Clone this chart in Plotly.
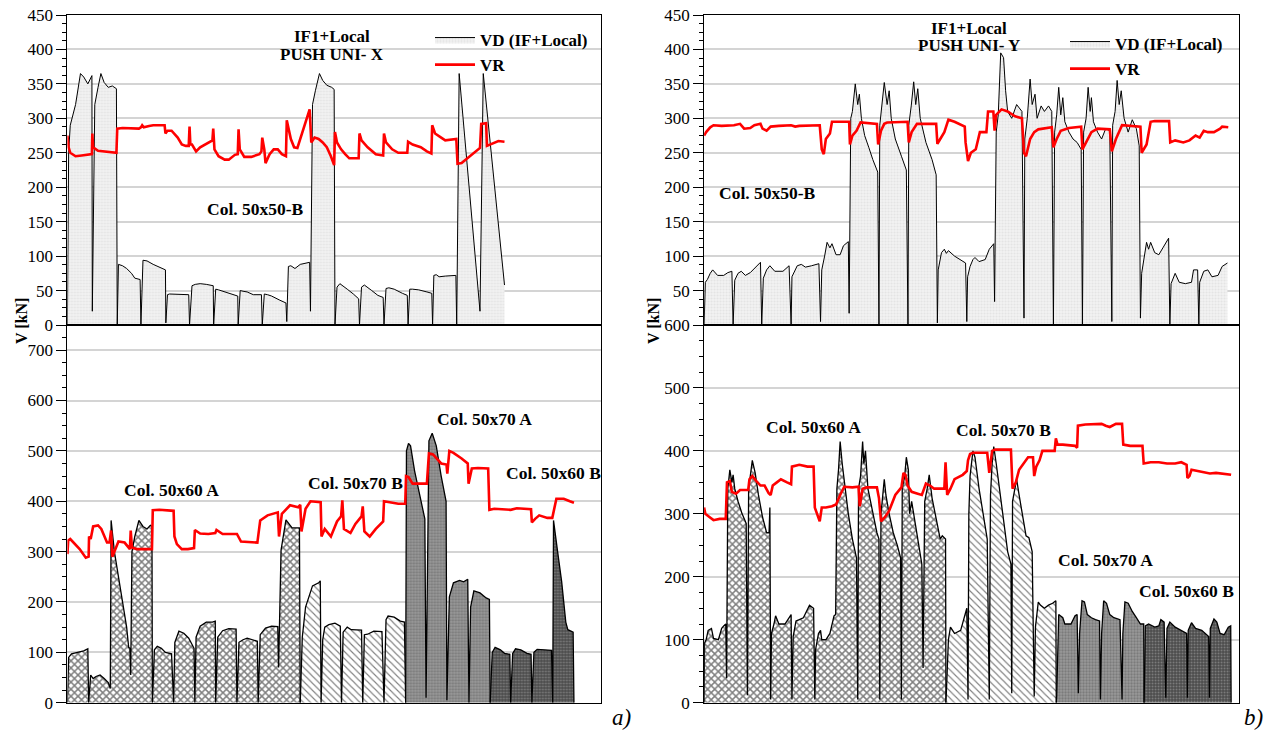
import plotly.graph_objects as go

FONT = "Liberation Serif"

# ---------------- data (abscissa = analysis step index, arbitrary units) ----------------
# Top-left: IF1+Local PUSH UNI-X, Col. 50x50-B
tl_vd = [(165,0),(168,250),(172,290),(185,320),(197,365),(205,360),(215,350),(225,362),(226,20),
 (232,320),(240,345),(247,365),(255,352),(265,345),(275,347),(285,343),(287,0),
 (290,88),(300,86),(310,82),(322,75),(330,68),(343,66),(345,0),
 (350,94),(360,93),(375,88),(395,82),(405,80),(406,3),
 (410,44),(415,45),(440,45),(462,44),(464,0),
 (470,57),(478,59),(490,60),(505,59),(522,57),(523,0),
 (528,52),(535,51),(550,48),(570,44),(582,42),(583,0),
 (588,50),(595,49),(605,48),(620,44),(640,44),(642,0),
 (647,45),(655,44),(665,42),(685,36),(700,32),(702,5),
 (706,85),(712,86),(722,82),(735,88),(758,91),(760,20),
 (765,320),(772,340),(782,365),(790,355),(800,348),(812,345),(818,342),(820,0),
 (825,55),(832,60),(840,57),(850,52),(865,45),(878,38),(880,0),
 (885,55),(892,58),(900,55),(910,50),(925,43),(938,40),(940,0),
 (945,53),(952,54),(965,52),(985,46),(997,43),(999,0),
 (1003,52),(1010,52),(1025,51),(1045,48),(1057,46),(1059,0),
 (1062,72),(1068,73),(1075,70),(1090,71),(1116,72),(1118,0),(1124,365),(1175,20),(1183,365),(1235,58)]
tl_vr = [(165,275),(168,258),(172,250),(185,245),(200,246),(225,248),(226,278),(228,258),(240,253),
 (260,252),(285,250),(287,285),(300,286),(340,285),(345,287),(348,290),(352,287),(365,289),(375,290),
 (403,290),(405,278),(410,282),(420,282),(435,272),(445,262),(455,260),(462,260),(464,288),(466,262),
 (470,262),(480,252),(490,258),(510,265),(520,268),(522,285),(525,255),(535,245),(550,240),(560,240),
 (575,247),(582,248),(584,284),(587,255),(598,244),(615,244),(635,248),(640,252),(642,272),(647,255),
 (650,235),(660,248),(670,255),(680,255),(690,248),(700,245),(702,297),(712,270),(720,258),(728,257),
 (738,275),(748,296),(758,313),(762,265),(770,272),(780,270),(790,265),(800,258),(810,245),(818,232),
 (820,280),(825,265),(835,255),(845,248),(855,242),(878,242),(880,278),(885,268),(900,258),(920,248),
 (938,246),(940,278),(945,265),(960,255),(975,250),(997,250),(999,266),(1010,262),(1030,258),(1045,252),
 (1056,249),(1058,290),(1065,278),(1080,272),(1090,268),(1117,270),(1120,234),(1130,235),(1145,242),
 (1160,250),(1175,257),(1178,292),(1190,293),(1192,260),(1200,262),(1210,265),(1220,267),(1235,266)]

# Top-right: IF1+Local PUSH UNI-Y, Col. 50x50-B
tr_vd = [(157,0),(160,62),(165,66),(172,75),(178,80),(185,75),(190,72),(205,72),(215,76),(225,78),(228,0),
 (232,65),(240,75),(248,78),(258,72),(270,76),(285,85),(295,91),(298,0),
 (302,68),(310,80),(318,86),(330,78),(350,78),(365,86),(370,0),
 (372,70),(385,86),(395,88),(405,84),(420,86),(438,89),(442,5),
 (445,80),(452,100),(458,120),(465,112),(470,118),(480,102),(490,102),(498,115),(510,121),(512,17),
 (516,300),(520,310),(527,350),(533,320),(537,335),(542,300),(550,275),(560,258),(570,240),(582,222),(585,0),
 (587,290),(592,320),(598,352),(605,320),(610,340),(615,300),(625,270),(640,245),(652,225),(656,0),
 (658,290),(664,318),(670,353),(675,320),(680,343),(686,300),(700,265),(715,240),(725,218),(728,3),
 (730,80),(738,105),(745,110),(750,104),(755,108),(770,100),(785,95),(797,90),(800,5),
 (802,70),(808,85),(815,95),(820,98),(830,92),(845,95),(855,110),(866,118),(868,34),
 (872,280),(877,305),(883,395),(890,388),(895,340),(900,310),(910,300),(922,320),(935,310),(940,10),
 (942,270),(948,300),(955,357),(960,320),(967,335),(972,300),(982,318),(990,310),(1000,318),(1008,310),(1012,0),
 (1015,280),(1020,305),(1025,345),(1030,305),(1035,330),(1040,295),(1050,280),(1060,270),(1070,265),(1080,255),(1083,0),
 (1086,280),(1092,300),(1097,345),(1102,310),(1105,330),(1110,295),(1120,280),(1130,270),(1140,285),(1150,282),(1155,5),
 (1157,290),(1163,310),(1168,355),(1173,320),(1178,340),(1185,300),(1195,280),(1205,298),(1215,285),(1222,260),(1225,10),
 (1228,75),(1235,105),(1240,120),(1245,110),(1250,120),(1260,105),(1270,102),(1280,112),(1294,126),(1297,0),
 (1300,60),(1310,75),(1320,62),(1335,60),(1350,62),(1355,80),(1365,80),(1368,0),
 (1370,62),(1380,78),(1390,80),(1400,70),(1415,72),(1425,85),(1438,90)]
tr_vr = [(157,275),(162,280),(172,287),(180,290),(200,289),(230,290),(245,292),(255,285),(270,286),(280,290),
 (295,292),(300,285),(310,282),(320,288),(340,289),(370,290),(380,288),(390,289),(440,290),(445,255),
 (450,248),(455,270),(465,278),(470,295),(512,295),(514,262),(520,275),(530,282),(540,294),(580,292),
 (583,262),(590,282),(598,292),(605,294),(655,295),(658,265),(665,280),(678,292),(725,292),(728,263),
 (735,270),(745,280),(755,298),(770,295),(795,288),(797,265),(803,238),(810,250),(822,255),(832,280),
 (848,280),(852,310),(865,310),(868,282),(872,305),(885,313),(900,310),(918,303),(935,300),(940,250),
 (945,245),(955,270),(965,280),(975,284),(1008,287),(1012,258),(1020,270),(1030,282),(1050,286),
 (1080,288),(1083,255),(1095,270),(1105,280),(1120,285),(1150,284),(1155,252),(1165,270),(1180,290),
 (1225,288),(1228,250),(1240,262),(1250,295),(1260,296),(1295,296),(1298,265),(1310,268),(1330,265),
 (1345,268),(1360,275),(1370,272),(1380,282),(1390,280),(1405,280),(1420,285),(1425,288),(1440,287)]

# Bottom-left (PUSH UNI-X)
bl_50x60A = [(165,0),(168,90),(175,97),(190,100),(205,103),(215,107),(217,0),
 (222,55),(228,48),(235,52),(245,55),(255,48),(265,40),(270,28),(272,362),(280,300),(290,250),(300,200),
 (310,150),(315,110),(318,108),(320,55),(323,300),(330,330),(340,362),(350,350),(360,345),(368,352),(372,350),(373,0),
 (378,105),(385,112),(395,108),(405,100),(420,97),(425,0),
 (428,120),(438,142),(450,138),(462,128),(475,108),(477,0),
 (480,130),(490,152),(505,160),(520,160),(527,162),(528,0),
 (533,130),(545,143),(560,147),(578,146),(580,0),
 (585,120),(595,125),(605,128),(620,124),(630,122),(632,0),
 (637,135),(650,148),(665,152),(680,151),(682,70),(688,303),(700,363),(715,347),(733,347),(735,0)]
bl_50x70B = [(735,0),(740,130),(748,190),(765,232),(780,238),(784,242),(786,0),
 (790,125),(795,150),(805,155),(820,158),(833,152),(836,0),
 (840,140),(850,150),(860,145),(885,144),(888,0),
 (892,135),(900,136),(915,142),(935,141),(940,0),
 (945,165),(950,172),(965,170),(980,162),(990,160),(993,0)]
bl_50x70A = [(993,0),(995,500),(1000,515),(1005,510),(1015,460),(1030,400),(1040,365),(1043,10),
 (1050,520),(1058,535),(1068,510),(1080,450),(1092,400),(1094,5),
 (1100,210),(1110,238),(1125,243),(1135,240),(1145,245),(1148,0),
 (1152,190),(1160,222),(1175,218),(1190,208),(1198,205),(1200,0)]
bl_50x60B = [(1200,0),(1205,100),(1212,110),(1225,105),(1235,98),(1248,96),(1250,0),
 (1255,98),(1262,107),(1275,105),(1290,98),(1300,96),(1302,0),
 (1307,100),(1315,106),(1330,105),(1350,104),(1353,0),
 (1355,362),(1365,300),(1375,240),(1385,160),(1390,145),(1403,140),(1405,0)]
bl_vr = [(165,295),(167,322),(172,325),(180,318),(195,305),(210,288),(217,290),(218,330),(222,325),(228,350),
 (240,352),(248,345),(262,318),(268,318),(272,342),(275,290),(280,300),(290,320),(305,318),(318,305),
 (320,342),(323,308),(335,305),(372,305),(374,382),(390,383),(425,381),(427,330),(433,315),(445,305),
 (460,305),(475,307),(477,343),(490,336),(510,335),(527,337),(530,343),(545,335),(580,335),(590,320),
 (630,318),(637,362),(655,372),(680,378),(683,330),(690,375),(710,392),(730,388),(735,393),(738,340),
 (748,385),(760,400),(785,398),(787,330),(795,345),(810,330),(825,360),(835,370),(838,402),(842,345),
 (858,337),(870,355),(885,370),(888,390),(892,340),(905,330),(920,345),(938,360),(940,400),(960,398),
 (975,395),(992,395),(994,450),(1000,448),(1010,435),(1045,435),(1050,495),(1060,493),(1070,485),
 (1080,475),(1093,473),(1095,455),(1100,500),(1110,496),(1130,485),(1145,475),(1147,435),(1155,465),
 (1170,466),(1195,465),(1198,383),(1210,385),(1250,383),(1265,386),(1300,384),(1302,358),(1310,365),
 (1320,372),(1340,367),(1352,367),(1362,405),(1380,405),(1395,400),(1405,397)]

# Bottom-right (PUSH UNI-Y)
br_50x60A = [(157,0),(158,95),(162,100),(167,115),(175,118),(180,102),(192,100),(200,118),(205,122),(210,125),(212,39),
 (215,340),(220,370),(225,350),(228,362),(232,340),(240,320),(250,300),(260,285),(263,12),
 (266,340),(272,370),(275,385),(282,365),(290,330),(300,295),(310,270),(316,270),(318,310),(320,5),
 (322,110),(328,125),(332,138),(340,125),(355,125),(370,140),(372,5),
 (375,105),(382,130),(390,132),(400,135),(415,155),(425,150),(428,5),
 (430,85),(437,110),(442,115),(445,100),(455,100),(465,110),(475,138),(479,140),
 (482,340),(486,370),(490,415),(495,380),(500,350),(510,300),(520,260),(530,230),(533,5),
 (535,340),(540,360),(545,415),(548,380),(552,400),(558,340),(570,300),(580,270),(585,260),(587,5),
 (590,300),(595,330),(598,355),(602,330),(610,300),(620,270),(630,250),(638,230),(640,5),
 (642,340),(648,360),(652,390),(657,370),(660,300),(665,320),(675,280),(685,235),(690,220),(693,55),
 (697,320),(703,340),(708,362),(715,325),(725,290),(735,260),(740,265),(748,260),(749,0)]
br_50x70B = [(749,0),(750,15),(755,100),(760,120),(770,110),(785,115),(795,140),(800,150),(803,5),
 (805,300),(808,360),(815,400),(820,390),(830,340),(840,300),(850,260),(855,5),
 (858,330),(862,380),(866,407),(872,380),(880,340),(890,290),(900,240),(908,220),(910,15),
 (912,320),(918,340),(922,355),(928,330),(935,300),(945,265),(952,262),(960,240),(965,10),
 (968,120),(975,160),(980,155),(990,150),(1000,155),(1010,158),(1018,162),(1019,0)]
br_50x70A = [(1019,0),(1020,10),(1025,140),(1035,135),(1040,125),(1055,125),(1065,138),(1070,140),(1073,15),
 (1076,110),(1082,162),(1088,160),(1095,140),(1105,135),(1115,132),(1125,130),(1127,5),
 (1130,110),(1135,162),(1142,158),(1150,140),(1160,135),(1175,132),(1180,5),
 (1182,110),(1187,160),(1195,158),(1205,145),(1215,135),(1225,125),(1233,125),(1234,0)]
br_50x60B = [(1234,0),(1237,122),(1245,125),(1260,120),(1270,122),(1275,132),(1283,128),(1287,8),
 (1290,118),(1297,128),(1310,120),(1325,115),(1338,110),(1340,8),
 (1342,115),(1350,127),(1360,118),(1375,115),(1385,110),(1392,105),(1394,8),
 (1396,118),(1405,133),(1412,128),(1420,110),(1430,108),(1440,120),(1446,122),(1447,0)]
br_vr = [(157,310),(160,300),(170,295),(180,290),(195,292),(210,292),(213,350),(220,352),(225,335),(235,332),
 (245,338),(265,338),(268,355),(275,360),(285,352),(295,345),(305,345),(315,333),(320,330),(325,345),
 (335,350),(345,355),(360,350),(370,347),(372,375),(390,378),(410,375),(425,375),(428,310),(435,295),
 (440,288),(445,310),(455,310),(470,312),(480,315),(490,330),(500,343),(520,342),(535,343),(538,312),
 (545,340),(555,342),(580,342),(585,325),(590,288),(600,295),(610,305),(625,330),(640,342),(645,365),
 (650,362),(655,345),(665,335),(680,332),(690,330),(700,348),(710,345),(720,340),(745,340),(748,382),
 (752,330),(760,340),(770,355),(790,362),(800,368),(803,385),(808,395),(815,397),(850,397),(855,365),
 (862,400),(870,402),(908,402),(912,340),(920,350),(928,370),(940,380),(950,390),(962,390),(965,360),
 (970,375),(978,385),(985,400),(1015,400),(1018,420),(1022,410),(1035,410),(1065,408),(1070,405),
 (1072,440),(1090,442),(1110,443),(1130,443),(1140,440),(1150,438),(1165,443),(1180,443),(1183,410),
 (1200,408),(1230,408),(1233,380),(1250,382),(1270,382),(1290,380),(1310,380),(1325,382),(1338,378),
 (1340,357),(1345,360),(1350,370),(1365,368),(1380,365),(1395,364),(1410,365),(1430,363),(1447,362)]

# ---------------- styles ----------------
PAT_TOP = dict(shape=".", size=3, solidity=0.35, fgcolor="#d6d6d6", bgcolor="#f1f1f1")
PAT_60A = dict(shape="x", size=5, solidity=0.5, fgcolor="#000000", bgcolor="#ffffff")
PAT_70B = dict(shape="\\", size=5, solidity=0.22, fgcolor="#000000", bgcolor="#ffffff")
PAT_70A = dict(shape=".", size=3, solidity=0.45, fgcolor="#5a5a5a", bgcolor="#9a9a9a")
PAT_60B = dict(shape=".", size=3, solidity=0.3, fgcolor="#b0b0b0", bgcolor="#4c4c4c")


def xs(p):
    return [a for a, _ in p]


def ys(p):
    return [b for _, b in p]


fig = go.Figure()


def add_vd(pts, xa, ya, pat, width=1.0, name="VD (IF+Local)", legend=None, group=None):
    fig.add_trace(go.Scatter(
        x=xs(pts), y=ys(pts), xaxis=xa, yaxis=ya, mode="lines", name=name,
        line=dict(color="black", width=width), fill="tozeroy", fillpattern=pat,
        showlegend=legend is not None, legend=legend or "legend", legendgroup=group,
        hoverinfo="skip"))


def add_vr(pts, xa, ya, legend=None, group=None):
    fig.add_trace(go.Scatter(
        x=xs(pts), y=ys(pts), xaxis=xa, yaxis=ya, mode="lines", name="VR",
        line=dict(color="#ff0000", width=2.6), showlegend=legend is not None,
        legend=legend or "legend", legendgroup=group, hoverinfo="skip"))


add_vd(tl_vd, "x", "y", PAT_TOP, legend="legend", group="a1")
add_vr(tl_vr, "x", "y", legend="legend", group="a2")
for pts, pat in [(bl_50x60A, PAT_60A), (bl_50x70B, PAT_70B), (bl_50x70A, PAT_70A), (bl_50x60B, PAT_60B)]:
    add_vd(pts, "x2", "y2", pat, width=1.3)
add_vr(bl_vr, "x2", "y2")
add_vd(tr_vd, "x3", "y3", PAT_TOP, legend="legend2", group="b1")
add_vr(tr_vr, "x3", "y3", legend="legend2", group="b2")
for pts, pat in [(br_50x60A, PAT_60A), (br_50x70B, PAT_70B), (br_50x70A, PAT_70A), (br_50x60B, PAT_60B)]:
    add_vd(pts, "x4", "y4", pat, width=1.3)
add_vr(br_vr, "x4", "y4")

W, H = 1277, 731
XL = [67.4 / W, 600.5 / W]
XR = [704.1 / W, 1239.3 / W]
YT = [1 - 325 / H, 1 - 15 / H]
YB = [1 - 702.7 / H, 1 - 325 / H]

tickfont = dict(family=FONT, size=17, color="black")


def xax(domain, rng, anchor):
    return dict(domain=domain, range=rng, anchor=anchor, showticklabels=False, ticks="",
                showgrid=False, zeroline=False, showline=True, mirror=True,
                linecolor="black", linewidth=1, fixedrange=True, automargin=False)


def yax(domain, rng, anchor, tickvals, minor_dtick):
    return dict(domain=domain, range=rng, anchor=anchor, tickmode="array", tickvals=tickvals,
                ticks="outside", ticklen=10, tickcolor="black", tickfont=tickfont,
                showgrid=True, gridcolor="#d4d4d4", gridwidth=1.5, zeroline=False,
                showline=True, mirror=True, linecolor="black", linewidth=1,
                minor=dict(dtick=minor_dtick, tick0=0, ticks="outside", ticklen=4,
                           tickcolor="black", showgrid=False),
                fixedrange=True, automargin=False)


legfont = dict(family=FONT, size=17, color="black", weight="bold")
fig.update_layout(
    width=W, height=H, margin=dict(l=0, r=0, t=0, b=0, autoexpand=False), autosize=False,
    paper_bgcolor="white", plot_bgcolor="white",
    xaxis=xax(XL, [165, 1470], "y"),
    yaxis=yax(YT, [0, 450], "x", list(range(0, 451, 50)), 12.5),
    xaxis2=xax(XL, [165, 1470], "y2"),
    yaxis2=yax(YB, [0, 750], "x2", list(range(0, 701, 100)), 25),
    xaxis3=xax(XR, [157, 1467], "y3"),
    yaxis3=yax(YT, [0, 450], "x3", list(range(50, 451, 50)), 12.5),
    xaxis4=xax(XR, [157, 1467], "y4"),
    yaxis4=yax(YB, [0, 600], "x4", list(range(0, 601, 100)), 25),
    legend=dict(x=430 / W, y=1 - 22 / H, xanchor="left", yanchor="top",
                bgcolor="rgba(0,0,0,0)", borderwidth=0, tracegroupgap=0,
                font=legfont, itemwidth=40),
    legend2=dict(x=1065 / W, y=1 - 26 / H, xanchor="left", yanchor="top",
                 bgcolor="rgba(0,0,0,0)", borderwidth=0, tracegroupgap=0,
                 font=legfont, itemwidth=40),
    hovermode=False,
)

ann = []


def lab(text, x, y, xr, yr, size=17.5):
    ann.append(dict(text="<b>%s</b>" % text, x=x, y=y, xref=xr, yref=yr, showarrow=False,
                    font=dict(family=FONT, size=size, color="black"), xanchor="center", yanchor="middle"))


# top-left
lab("IF1+Local", 812, 419, "x", "y", 17)
lab("PUSH UNI- X", 812, 392, "x", "y", 17)
lab("Col. 50x50-B", 625, 168, "x", "y")
# bottom-left
lab("Col. 50x60 A", 420, 423, "x2", "y2")
lab("Col. 50x70 B", 870, 437, "x2", "y2")
lab("Col. 50x70 A", 1185, 563, "x2", "y2")
lab("Col. 50x60 B", 1355, 457, "x2", "y2")
# top-right
lab("IF1+Local", 805, 431, "x3", "y3", 17)
lab("PUSH UNI- Y", 805, 405, "x3", "y3", 17)
lab("Col. 50x50-B", 312, 192, "x3", "y3")
# bottom-right
lab("Col. 50x60 A", 425, 438, "x4", "y4")
lab("Col. 50x70 B", 890, 433, "x4", "y4")
lab("Col. 50x70 A", 1140, 227, "x4", "y4")
lab("Col. 50x60 B", 1337, 178, "x4", "y4")

# axis titles
for px in (21, 653):
    ann.append(dict(text="<b>V [kN]</b>", x=px / W, y=1 - 321 / H, xref="paper", yref="paper",
                    showarrow=False, textangle=-90, font=dict(family=FONT, size=16, color="black"),
                    xanchor="center", yanchor="middle"))
# panel letters
ann.append(dict(text="<i>a)</i>", x=621 / W, y=1 - 717 / H, xref="paper", yref="paper", showarrow=False,
                font=dict(family=FONT, size=23, color="black"), xanchor="center", yanchor="middle"))
ann.append(dict(text="<i>b)</i>", x=1253 / W, y=1 - 717 / H, xref="paper", yref="paper", showarrow=False,
                font=dict(family=FONT, size=23, color="black"), xanchor="center", yanchor="middle"))
fig.update_layout(annotations=ann)

fig.write_html("out.html")
